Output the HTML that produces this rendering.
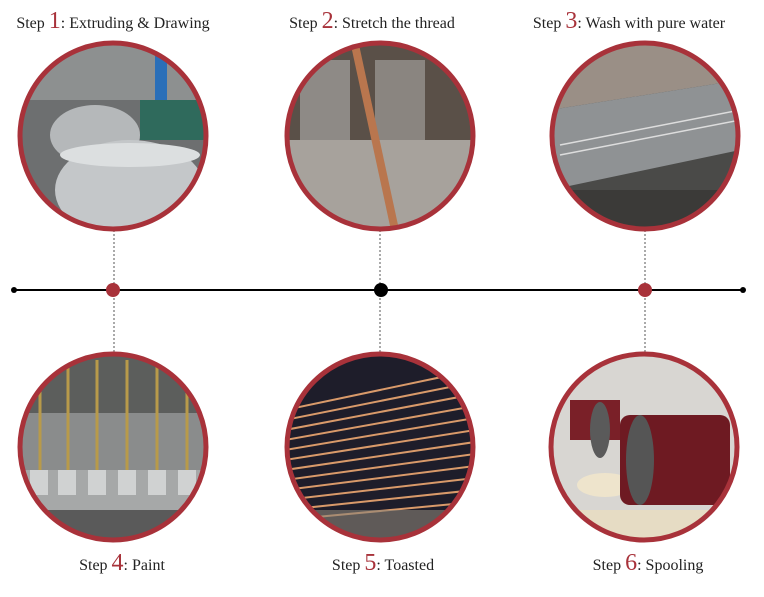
<!DOCTYPE html>
<html><head><meta charset="utf-8"><style>
html,body{margin:0;padding:0;background:#fff;}
svg{display:block}
.t{font-family:"Liberation Serif",serif;font-size:16px;fill:#222}
.n{font-size:24px;fill:#a8323a}
</style></head><body>
<svg width="764" height="597" viewBox="0 0 764 597">
<defs>
<clipPath id="c1"><circle cx="113" cy="136" r="92"/></clipPath>
<clipPath id="c2"><circle cx="380" cy="136" r="92"/></clipPath>
<clipPath id="c3"><circle cx="645" cy="136" r="92"/></clipPath>
<clipPath id="c4"><circle cx="113" cy="447" r="92"/></clipPath>
<clipPath id="c5"><circle cx="380" cy="447" r="92"/></clipPath>
<clipPath id="c6"><circle cx="644" cy="447" r="92"/></clipPath>
</defs>
<!-- dotted connectors -->
<g stroke="#555" stroke-width="1" stroke-dasharray="2,2">
<line x1="114" y1="230" x2="114" y2="352"/>
<line x1="380" y1="230" x2="380" y2="352"/>
<line x1="645" y1="230" x2="645" y2="352"/>
</g>
<line x1="14" y1="290" x2="743" y2="290" stroke="#000" stroke-width="2"/>
<circle cx="14" cy="290" r="3" fill="#000"/><circle cx="743" cy="290" r="3" fill="#000"/>
<circle cx="113" cy="290" r="7" fill="#a8323a"/>
<circle cx="381" cy="290" r="7" fill="#000"/>
<circle cx="645" cy="290" r="7" fill="#a8323a"/>

<!-- 1 -->
<g clip-path="url(#c1)">
<rect x="20" y="40" width="190" height="190" fill="#6d6f70"/>
<rect x="20" y="40" width="190" height="60" fill="#8d9090"/>
<rect x="155" y="55" width="12" height="85" fill="#2a6fb8"/>
<rect x="140" y="100" width="70" height="40" fill="#2f6a5c"/>
<ellipse cx="95" cy="135" rx="45" ry="30" fill="#b5b8ba"/>
<ellipse cx="130" cy="190" rx="75" ry="50" fill="#c4c7c9"/>
<ellipse cx="130" cy="155" rx="70" ry="12" fill="#dcdfe0"/>
</g>
<!-- 2 -->
<g clip-path="url(#c2)">
<rect x="285" y="40" width="190" height="190" fill="#7a6a5e"/>
<rect x="285" y="40" width="190" height="100" fill="#5a5048"/>
<rect x="285" y="140" width="190" height="90" fill="#a7a29c"/>
<rect x="300" y="60" width="50" height="80" fill="#8e8a86"/>
<rect x="375" y="60" width="50" height="80" fill="#8a8580"/>
<line x1="355" y1="45" x2="395" y2="230" stroke="#b9764e" stroke-width="8"/>
</g>
<!-- 3 -->
<g clip-path="url(#c3)">
<rect x="550" y="40" width="190" height="190" fill="#4a4a48"/>
<polygon points="550,40 740,40 740,80 550,110" fill="#9a8f86"/>
<polygon points="550,110 740,80 740,150 550,190" fill="#8f9294"/>
<rect x="550" y="190" width="190" height="40" fill="#3b3a38"/>
<line x1="560" y1="155" x2="740" y2="120" stroke="#ddd" stroke-width="1.5"/>
<line x1="560" y1="145" x2="740" y2="110" stroke="#ddd" stroke-width="1.5"/>
</g>
<!-- 4 -->
<g clip-path="url(#c4)">
<rect x="20" y="353" width="190" height="190" fill="#8a8c8c"/>
<rect x="20" y="353" width="190" height="60" fill="#5c5e5c"/>
<rect x="20" y="470" width="190" height="40" fill="#a6a8a8"/>
<g fill="#d0d2d2"><rect x="30" y="470" width="18" height="25"/><rect x="58" y="470" width="18" height="25"/><rect x="88" y="470" width="18" height="25"/><rect x="118" y="470" width="18" height="25"/><rect x="148" y="470" width="18" height="25"/><rect x="178" y="470" width="18" height="25"/></g>
<g stroke="#b89a4a" stroke-width="3"><line x1="40" y1="360" x2="40" y2="470"/><line x1="68" y1="360" x2="68" y2="470"/><line x1="97" y1="360" x2="97" y2="470"/><line x1="127" y1="360" x2="127" y2="470"/><line x1="157" y1="360" x2="157" y2="470"/><line x1="187" y1="360" x2="187" y2="470"/></g>
<rect x="20" y="510" width="190" height="35" fill="#5a5a5a"/>
</g>
<!-- 5 -->
<g clip-path="url(#c5)">
<rect x="285" y="353" width="190" height="190" fill="#1e1d2a"/>
<g stroke="#d99a6a" stroke-width="2">
<line x1="285" y1="410" x2="475" y2="370"/><line x1="285" y1="420" x2="475" y2="382"/><line x1="285" y1="430" x2="475" y2="394"/><line x1="285" y1="440" x2="475" y2="406"/><line x1="285" y1="450" x2="475" y2="418"/><line x1="285" y1="460" x2="475" y2="430"/><line x1="285" y1="470" x2="475" y2="442"/><line x1="285" y1="480" x2="475" y2="454"/><line x1="285" y1="490" x2="475" y2="466"/><line x1="285" y1="500" x2="475" y2="478"/><line x1="285" y1="510" x2="475" y2="490"/><line x1="285" y1="520" x2="475" y2="502"/>
</g>
<rect x="285" y="510" width="190" height="35" fill="#8a8478" opacity="0.6"/>
</g>
<!-- 6 -->
<g clip-path="url(#c6)">
<rect x="550" y="353" width="190" height="190" fill="#d8d6d2"/>
<rect x="550" y="510" width="190" height="35" fill="#e6dcc4"/>
<ellipse cx="605" cy="485" rx="28" ry="12" fill="#eee4cc"/>
<rect x="570" y="400" width="50" height="40" fill="#7a2028"/>
<rect x="620" y="415" width="110" height="90" rx="10" fill="#6e1a22"/>
<ellipse cx="640" cy="460" rx="14" ry="45" fill="#555"/>
<ellipse cx="600" cy="430" rx="10" ry="28" fill="#5a5a5a"/>
</g>

<g fill="none" stroke="#a8323a" stroke-width="5">
<circle cx="113" cy="136" r="93"/><circle cx="380" cy="136" r="93"/><circle cx="645" cy="136" r="93"/>
<circle cx="113" cy="447" r="93"/><circle cx="380" cy="447" r="93"/><circle cx="644" cy="447" r="93"/>
</g>

<text class="t" x="113" y="28" text-anchor="middle">Step <tspan class="n">1</tspan>: Extruding &amp; Drawing</text>
<text class="t" x="372" y="28" text-anchor="middle">Step <tspan class="n">2</tspan>: Stretch the thread</text>
<text class="t" x="629" y="28" text-anchor="middle">Step <tspan class="n">3</tspan>: Wash with pure water</text>
<text class="t" x="122" y="570" text-anchor="middle">Step <tspan class="n">4</tspan>: Paint</text>
<text class="t" x="383" y="570" text-anchor="middle">Step <tspan class="n">5</tspan>: Toasted</text>
<text class="t" x="648" y="570" text-anchor="middle">Step <tspan class="n">6</tspan>: Spooling</text>
</svg>
</body></html>
